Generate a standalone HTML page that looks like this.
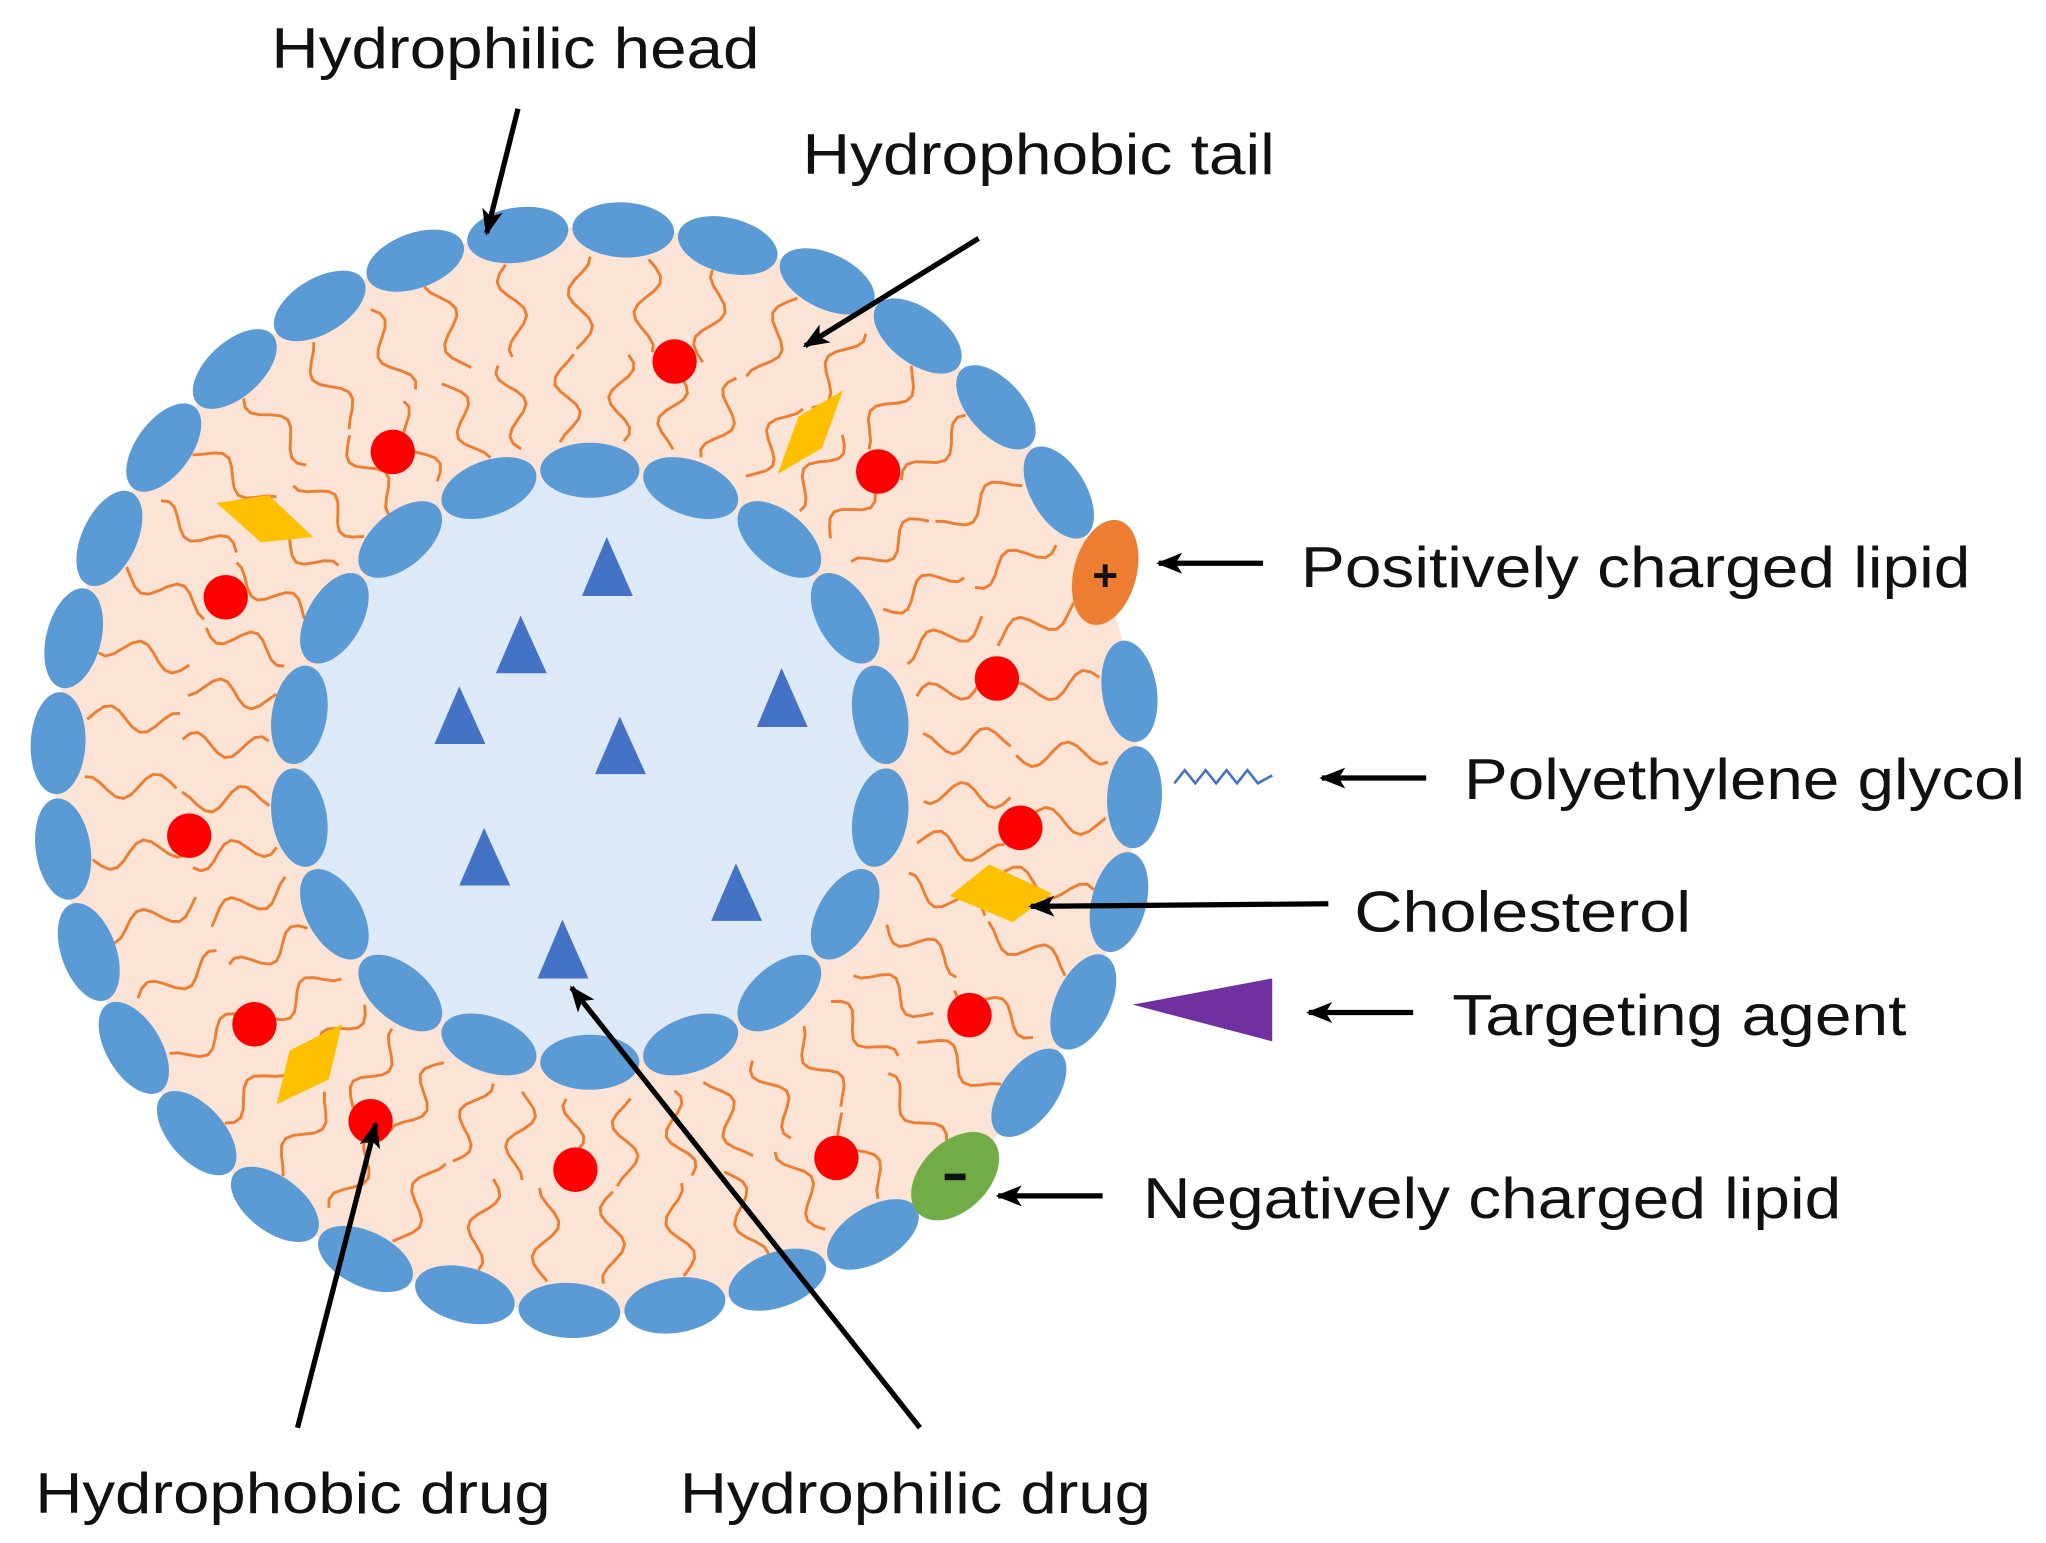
<!DOCTYPE html>
<html><head><meta charset="utf-8"><style>
html,body{margin:0;padding:0;background:#fff;width:2046px;height:1543px;overflow:hidden}
svg{display:block}
text{font-family:"Liberation Sans",Arial,sans-serif;font-size:44px;fill:#111}
</style></head><body>
<svg id="s" width="2046" height="1543" viewBox="0 0 1568 1178" preserveAspectRatio="none" xmlns="http://www.w3.org/2000/svg">
<defs>
<marker id="ah" markerWidth="20" markerHeight="16" refX="18" refY="8" orient="auto" markerUnits="userSpaceOnUse" viewBox="0 0 20 16">
<path d="M0,0 L20,8 L0,16 L5,8 z" fill="#000"/></marker>
</defs>
<circle cx="457" cy="588" r="415" fill="#fbe4d6"/>
<g id="tails"></g>
<circle cx="452" cy="585" r="222" fill="#dde9f6"/>
<g id="heads"></g>
<g fill="#ff0000">
<circle cx="517" cy="276" r="17"/><circle cx="301" cy="345" r="17"/><circle cx="673" cy="360" r="17"/>
<circle cx="173" cy="456" r="17"/><circle cx="764" cy="518" r="17"/><circle cx="145" cy="638" r="17"/>
<circle cx="782" cy="632" r="17"/><circle cx="743" cy="775" r="17"/><circle cx="195" cy="782" r="17"/>
<circle cx="284" cy="856" r="17"/><circle cx="441" cy="893" r="17"/><circle cx="641" cy="884" r="17"/>
</g>
<g fill="#ffc000">
<polygon points="596,362 612,318 646,298 630,342"/>
<polygon points="166,384 206,378 240,410 200,414"/>
<polygon points="728,684 758,660 806,682 776,704"/>
<polygon points="212,843 222,802 262,782 252,824"/>
</g>
<g fill="#4472c4">
<polygon points="465,410 446,455 485,455"/><polygon points="399,470 380,514 419,514"/>
<polygon points="352,524 333,568 372,568"/><polygon points="475,547 456,591 495,591"/>
<polygon points="599,510 580,555 619,555"/><polygon points="371,632 352,676 391,676"/>
<polygon points="564,659 545,703 584,703"/><polygon points="431,702 412,747 451,747"/>
</g>
<polygon points="868,767 975,747 975,795" fill="#7030a0"/>
<polyline points="900,598 908,588 916,598 924,588 932,598 940,588 948,598 956,588 964,598 975,592" fill="none" stroke="#4472c4" stroke-width="2"/>
<ellipse cx="847" cy="437" rx="24" ry="41" transform="rotate(15 847 437)" fill="#ed7d31"/>
<text x="847" y="451" text-anchor="middle" style="font-size:34px;font-weight:bold">+</text>
<ellipse cx="732" cy="898" rx="26" ry="40" transform="rotate(45 732 898)" fill="#70ad47"/>
<rect x="724" y="896" width="16" height="5" fill="#111"/>
<g stroke="#000" stroke-width="4" fill="none" marker-end="url(#ah)">
<line x1="397" y1="83" x2="373" y2="178"/>
<line x1="750" y1="182" x2="617" y2="264"/>
<line x1="968" y1="430" x2="888" y2="430"/>
<line x1="1093" y1="594" x2="1013" y2="594"/>
<line x1="1018" y1="690" x2="790" y2="692"/>
<line x1="1083" y1="773" x2="1003" y2="773"/>
<line x1="845" y1="913" x2="765" y2="913"/>
<line x1="228" y1="1090" x2="288" y2="858"/>
<line x1="705" y1="1090" x2="438" y2="754"/>
</g>
<text x="208" y="52" textLength="374" lengthAdjust="spacingAndGlyphs">Hydrophilic head</text>
<text x="615" y="133" textLength="362" lengthAdjust="spacingAndGlyphs">Hydrophobic tail</text>
<text x="997" y="448" textLength="513" lengthAdjust="spacingAndGlyphs">Positively charged lipid</text>
<text x="1122" y="610" textLength="430" lengthAdjust="spacingAndGlyphs">Polyethylene glycol</text>
<text x="1038" y="711" textLength="258" lengthAdjust="spacingAndGlyphs">Cholesterol</text>
<text x="1113" y="790" textLength="348" lengthAdjust="spacingAndGlyphs">Targeting agent</text>
<text x="876" y="930" textLength="535" lengthAdjust="spacingAndGlyphs">Negatively charged lipid</text>
<text x="27" y="1155" textLength="395" lengthAdjust="spacingAndGlyphs">Hydrophobic drug</text>
<text x="521" y="1155" textLength="361" lengthAdjust="spacingAndGlyphs">Hydrophilic drug</text>
</svg>
<script>
var NS="http://www.w3.org/2000/svg";
var heads=document.getElementById("heads"),tails=document.getElementById("tails");
function el(p,t,a){var e=document.createElementNS(NS,t);for(var k in a)e.setAttribute(k,a[k]);p.appendChild(e);return e;}
var N=32,cx=457,cy=588,R=413;
for(var i=0;i<N;i++){
  var a=i*2*Math.PI/N+0.05;
  var deg=a*180/Math.PI;
  var x=cx+R*Math.cos(a),y=cy+R*Math.sin(a);
  var d=((deg%360)+360)%360;
  if(Math.abs(d-339)<6||Math.abs(d-48)<6)continue;
  el(heads,"ellipse",{cx:x,cy:y,rx:21,ry:39,fill:"#5b9bd5",transform:"rotate("+(deg)+" "+x+" "+y+")"});
}
var M=18,cx2=452,cy2=585,R2=226;
for(var i=0;i<M;i++){
  var a=i*2*Math.PI/M-Math.PI/2;
  var deg=a*180/Math.PI;
  var x=cx2+R2*Math.cos(a),y=cy2+R2*Math.sin(a);
  el(heads,"ellipse",{cx:x,cy:y,rx:21,ry:38,fill:"#5b9bd5",transform:"rotate("+deg+" "+x+" "+y+")"});
}
var T=44;
for(var i=0;i<T;i++){
  var base=i*2*Math.PI/T;
  for(var s=0;s<2;s++){
    var a=base+(s?0.035:-0.035)+(s?0.03:0);
    var r0=s?252:322,r1=s?318:392;
    var pts=[];
    for(var k=0;k<=12;k++){
      var r=r0+(r1-r0)*k/12;
      var off=Math.sin(k*0.7+i*1.7+s)*(9/r);
      pts.push((cx+r*Math.cos(a+off)).toFixed(1)+","+(cy+r*Math.sin(a+off)).toFixed(1));
    }
    el(tails,"polyline",{points:pts.join(" "),fill:"none",stroke:"#ed7d31","stroke-width":2.2,"stroke-linejoin":"round"});
  }
}
</script>
</body></html>
